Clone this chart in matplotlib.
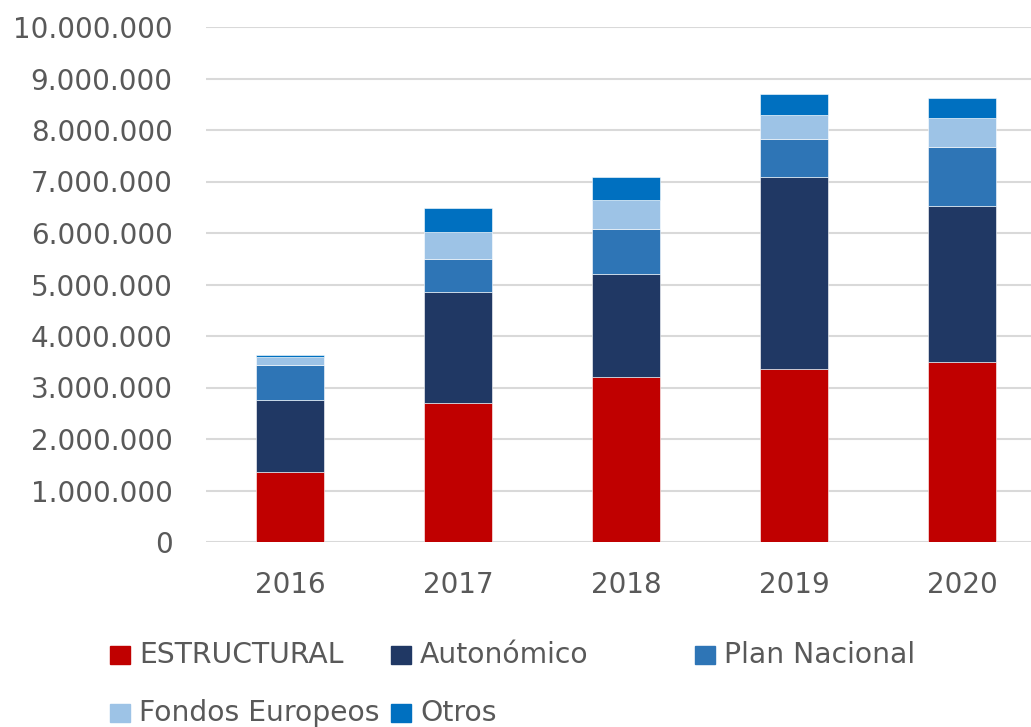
import matplotlib.pyplot as plt
import numpy as np
from matplotlib.patches import Rectangle
from matplotlib.ticker import FuncFormatter

years = ['2016', '2017', '2018', '2019', '2020']
estructural = [1360000, 2690000, 3210000, 3360000, 3490000]
autonomico = [1400000, 2170000, 2000000, 3730000, 3040000]
plan_nacional = [675000, 635000, 870000, 740000, 1145000]
fondos_europeos = [155000, 520000, 570000, 460000, 565000]
otros = [40000, 465000, 440000, 415000, 380000]

series = [
    ('ESTRUCTURAL', estructural, '#C00000'),
    ('Autonómico', autonomico, '#203864'),
    ('Plan Nacional', plan_nacional, '#2E75B6'),
    ('Fondos Europeos', fondos_europeos, '#9DC3E6'),
    ('Otros', otros, '#0070C0'),
]

plt.rcParams['font.family'] = 'DejaVu Sans'
txt_col = '#595959'

fig = plt.figure(figsize=(10.31, 7.27), dpi=100)
ax = fig.add_axes([206 / 1031, 1 - 542 / 727, 840 / 1031, 515 / 727])

x = np.arange(len(years))
bottom = np.zeros(len(years))
for name, vals, col in series:
    ax.bar(x, vals, width=0.4, bottom=bottom, color=col, edgecolor='white',
           linewidth=0.4, zorder=3)
    bottom += np.array(vals)

ax.set_xlim(-0.5, 4.5)
ax.set_ylim(0, 10000000)
ax.set_yticks(np.arange(0, 10000001, 1000000))
ax.yaxis.set_major_formatter(FuncFormatter(lambda v, p: f'{int(v):,}'.replace(',', '.')))
ax.set_xticks(x)
ax.set_xticklabels(years)
ax.grid(axis='y', color='#D9D9D9', linewidth=1.5, zorder=0)
for s in ax.spines.values():
    s.set_visible(False)
ax.tick_params(axis='y', length=0, pad=24, labelsize=20, labelcolor=txt_col)
ax.tick_params(axis='x', length=0, pad=21, labelsize=20, labelcolor=txt_col)

# legend, placed by hand like the Excel one
legend_pos = [(110, 655), (391, 655), (695, 655), (110, 713), (391, 713)]
for (name, vals, col), (px, py) in zip(series, legend_pos):
    fig.add_artist(Rectangle((px / 1031, 1 - (py + 9) / 727), 20 / 1031, 18 / 727,
                             transform=fig.transFigure, color=col))
    fig.text((px + 29) / 1031, 1 - py / 727, name, fontsize=20.3, color=txt_col,
             va='center', ha='left')

fig.savefig('out.png', dpi=100)
